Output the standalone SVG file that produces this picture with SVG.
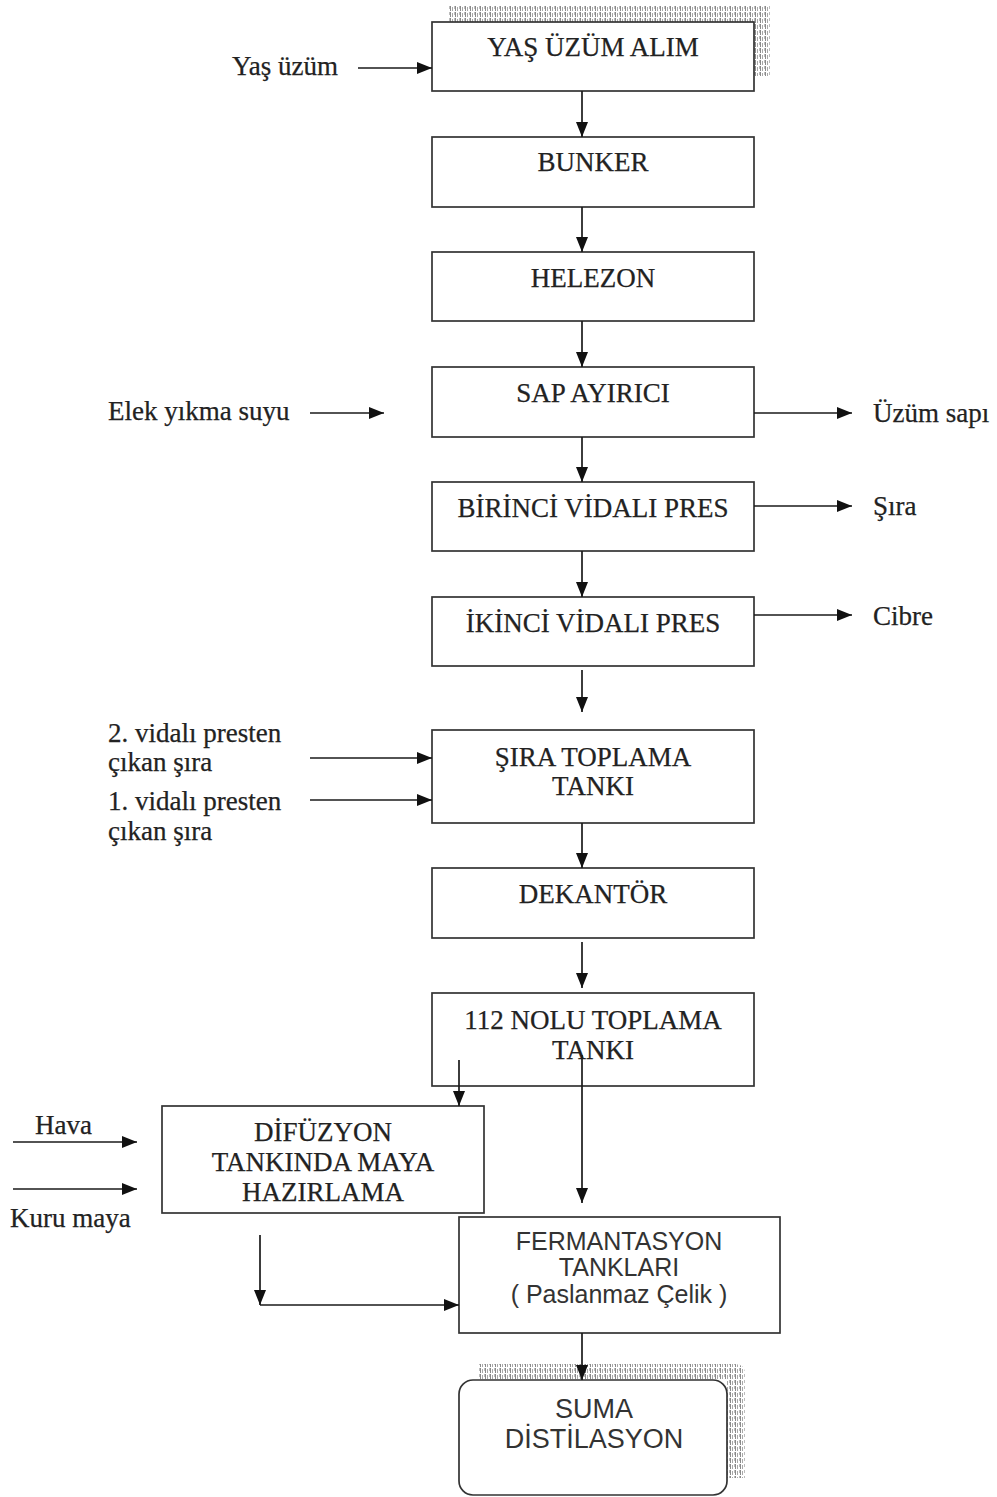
<svg xmlns="http://www.w3.org/2000/svg" width="997" height="1497" viewBox="0 0 997 1497">
  <defs>
    <marker id="arrow" viewBox="0 0 15 12" refX="15" refY="6" markerWidth="15" markerHeight="12" markerUnits="userSpaceOnUse" orient="auto">
      <path d="M0,0 L15,6 L0,12 Z" fill="#111"/>
    </marker>
    <!-- light dotted hatch used for the drop shadows -->
    <pattern id="hatch" width="5" height="6" patternUnits="userSpaceOnUse">
      <rect x="0" y="0" width="1" height="5" fill="#8a8a8a"/>
      <rect x="2" y="1" width="1" height="4" fill="#a8a8a8"/>
      <rect x="4" y="0" width="1" height="3" fill="#bcbcbc"/>
    </pattern>
  </defs>
  <style>
    .box { fill: #fff; stroke: #333; stroke-width: 1.7; }
    .serif { font-family: "Liberation Serif", "Times New Roman", serif; font-size: 27px; fill: #222; stroke: #222; stroke-width: 0.25; }
    .sans { font-family: "Liberation Sans", Arial, sans-serif; fill: #333; }
    .mid { text-anchor: middle; }
    .flow-arrow { fill: none; stroke: #1a1a1a; stroke-width: 1.7; marker-end: url(#arrow); }
  </style>

  <rect width="997" height="1497" fill="#fff"/>

  <!-- shadows -->
  <g id="shadows">
    <rect x="448" y="6" width="322" height="16" fill="url(#hatch)"/>
    <rect x="754" y="6" width="16" height="70" fill="url(#hatch)"/>
    <path d="M478,1364 L735,1364 Q745,1364 745,1374 L745,1478 L727,1478 L727,1380 L478,1380 Z" fill="url(#hatch)"/>
  </g>

  <!-- process steps -->
  <g id="yas-uzum-alim">
    <rect class="box" x="432" y="22" width="322" height="69"/>
    <text class="serif mid" x="593" y="56">YAŞ ÜZÜM ALIM</text>
  </g>
  <g id="bunker">
    <rect class="box" x="432" y="137" width="322" height="70"/>
    <text class="serif mid" x="593" y="171">BUNKER</text>
  </g>
  <g id="helezon">
    <rect class="box" x="432" y="252" width="322" height="69"/>
    <text class="serif mid" x="593" y="287">HELEZON</text>
  </g>
  <g id="sap-ayirici">
    <rect class="box" x="432" y="367" width="322" height="70"/>
    <text class="serif mid" x="593" y="402">SAP AYIRICI</text>
  </g>
  <g id="birinci-vidali-pres">
    <rect class="box" x="432" y="482" width="322" height="69"/>
    <text class="serif mid" x="593" y="517">BİRİNCİ VİDALI PRES</text>
  </g>
  <g id="ikinci-vidali-pres">
    <rect class="box" x="432" y="597" width="322" height="69"/>
    <text class="serif mid" x="593" y="632">İKİNCİ VİDALI PRES</text>
  </g>
  <g id="sira-toplama-tanki">
    <rect class="box" x="432" y="730" width="322" height="93"/>
    <text class="serif mid" x="593" y="766">ŞIRA TOPLAMA</text>
    <text class="serif mid" x="593" y="795">TANKI</text>
  </g>
  <g id="dekantor">
    <rect class="box" x="432" y="868" width="322" height="70"/>
    <text class="serif mid" x="593" y="903">DEKANTÖR</text>
  </g>
  <g id="toplama-tanki-112">
    <rect class="box" x="432" y="993" width="322" height="93"/>
    <text class="serif mid" x="593" y="1029">112 NOLU TOPLAMA</text>
    <text class="serif mid" x="593" y="1059">TANKI</text>
  </g>
  <g id="difuzyon">
    <rect class="box" x="162" y="1106" width="322" height="107"/>
    <text class="serif mid" x="323" y="1141">DİFÜZYON</text>
    <text class="serif mid" x="323" y="1171">TANKINDA MAYA</text>
    <text class="serif mid" x="323" y="1201">HAZIRLAMA</text>
  </g>
  <g id="fermantasyon">
    <rect class="box" x="459" y="1217" width="321" height="116"/>
    <text class="sans mid" x="619" y="1250" font-size="25">FERMANTASYON</text>
    <text class="sans mid" x="619" y="1276" font-size="25">TANKLARI</text>
    <text class="sans mid" x="619" y="1303" font-size="25">( Paslanmaz Çelik )</text>
  </g>
  <g id="suma-distilasyon">
    <rect class="box" x="459" y="1380" width="268" height="115" rx="14" ry="14"/>
    <text class="sans mid" x="594" y="1418" font-size="27">SUMA</text>
    <text class="sans mid" x="594" y="1448" font-size="27">DİSTİLASYON</text>
  </g>

  <!-- side inputs and outputs -->
  <g id="labels">
    <text class="serif" x="232" y="75">Yaş üzüm</text>
    <text class="serif" x="108" y="420">Elek yıkma suyu</text>
    <text class="serif" x="873" y="422">Üzüm sapı</text>
    <text class="serif" x="873" y="515">Şıra</text>
    <text class="serif" x="873" y="625">Cibre</text>
    <text class="serif" x="108" y="742">2. vidalı presten</text>
    <text class="serif" x="108" y="771">çıkan şıra</text>
    <text class="serif" x="108" y="810">1. vidalı presten</text>
    <text class="serif" x="108" y="840">çıkan şıra</text>
    <text class="serif" x="35" y="1134">Hava</text>
    <text class="serif" x="10" y="1227">Kuru maya</text>
  </g>

  <!-- connectors -->
  <g id="connectors">
    <line class="flow-arrow" x1="358" y1="68" x2="432" y2="68"/>
    <line class="flow-arrow" x1="582" y1="91" x2="582" y2="137"/>
    <line class="flow-arrow" x1="582" y1="207" x2="582" y2="252"/>
    <line class="flow-arrow" x1="582" y1="321" x2="582" y2="367"/>
    <line class="flow-arrow" x1="310" y1="413" x2="384" y2="413"/>
    <line class="flow-arrow" x1="754" y1="413" x2="852" y2="413"/>
    <line class="flow-arrow" x1="582" y1="437" x2="582" y2="482"/>
    <line class="flow-arrow" x1="754" y1="506" x2="852" y2="506"/>
    <line class="flow-arrow" x1="582" y1="551" x2="582" y2="597"/>
    <line class="flow-arrow" x1="754" y1="615" x2="852" y2="615"/>
    <line class="flow-arrow" x1="582" y1="670" x2="582" y2="712"/>
    <line class="flow-arrow" x1="310" y1="758" x2="432" y2="758"/>
    <line class="flow-arrow" x1="310" y1="800" x2="432" y2="800"/>
    <line class="flow-arrow" x1="582" y1="823" x2="582" y2="868"/>
    <line class="flow-arrow" x1="582" y1="942" x2="582" y2="988"/>
    <line class="flow-arrow" x1="459" y1="1060" x2="459" y2="1106"/>
    <line class="flow-arrow" x1="582" y1="1055" x2="582" y2="1203"/>
    <line class="flow-arrow" x1="13" y1="1142" x2="137" y2="1142"/>
    <line class="flow-arrow" x1="13" y1="1189" x2="137" y2="1189"/>
    <line class="flow-arrow" x1="260" y1="1235" x2="260" y2="1305"/>
    <line class="flow-arrow" x1="260" y1="1305" x2="459" y2="1305"/>
    <line class="flow-arrow" x1="582" y1="1333" x2="582" y2="1380"/>
  </g>
</svg>
